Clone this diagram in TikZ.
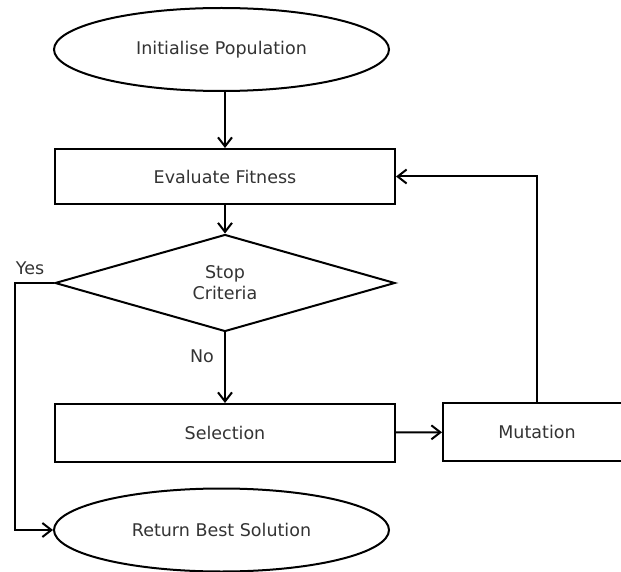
\documentclass[tikz,border=0pt]{standalone}
\usepackage{fontspec}
\setmainfont{DejaVu Sans}
\usepackage{tikz}
\usetikzlibrary{shapes,arrows.meta}
\tikzstyle{startstop} = [ellipse, minimum width=335pt, minimum height=83pt, inner sep=2pt,
text centered, draw=black, fill=white]
\tikzstyle{process} = [rectangle, minimum width=340pt, minimum height=55pt, text centered, draw=black, fill=white]
\tikzstyle{decision} = [diamond, aspect=3.5, inner sep=0pt, minimum width=340pt, minimum height=97pt,
align=center, draw=black, fill=white]
\tikzstyle{answer} = [text=black!80]
\tikzstyle{flowArrow} = [line width=2pt, -{Straight Barb[length=9pt,width=14pt,line width=2pt]}]

\begin{document}
\begin{tikzpicture}[x=1pt, y=1pt, line width=2pt, font=\fontsize{17.5}{21}\selectfont, text=black!80]
		\useasboundingbox (0,0) rectangle (621,-572);
		%blocks
		\node[startstop](init) at (221.5,-49.5){Initialise Population};
		\node[process, below of=init, node distance=127pt, xshift=3.5pt](fitness){Evaluate Fitness};
		\node[decision, below of=fitness, node distance=106.5pt](stop){Stop\\Criteria};
		\node[process, below of=stop, node distance=150pt, minimum height=58pt](select){Selection};
		\node[process, right of=select, node distance=312pt, minimum width=188pt, minimum height=58pt, yshift=1pt](mutate){Mutation};
		\node[startstop, below of=select, node distance=97pt, xshift=-3.5pt](best){Return Best Solution};
		\node[answer] (yes) at (30,-268) {Yes};
		\node[answer] (no) at (202,-356) {No};
		
		%arrows
		\draw[flowArrow](fitness.north |- init.south)--(fitness);
		\draw[flowArrow](fitness)--(stop);
		\draw[flowArrow](stop)--(select);
		\draw[flowArrow](select)--(mutate);
		\draw[flowArrow](mutate.north)|-(fitness.east);
		\draw[flowArrow](stop.west)--(15,-283)|-(best.west);
	\end{tikzpicture}
\end{document}
